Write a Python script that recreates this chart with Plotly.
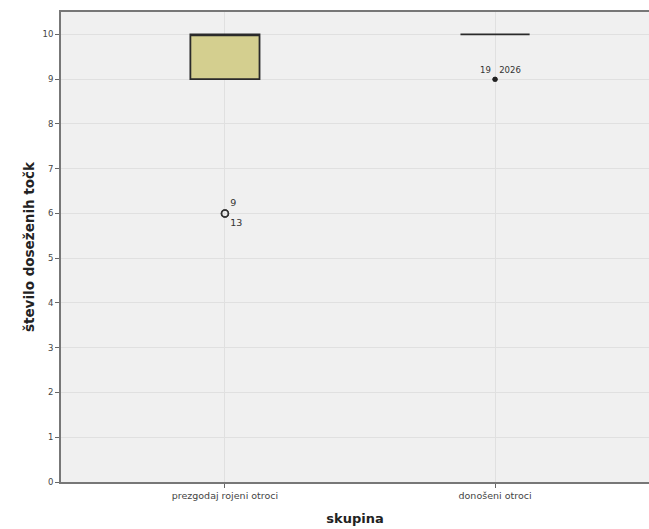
import plotly.graph_objects as go

categories = ["prezgodaj rojeni otroci", "donošeni otroci"]
q1 = [9, 10]
median = [10, 10]
q3 = [10, 10]
lower_fence = [9, 10]
upper_fence = [10, 10]

# outliers: (category index, value, case label)
out_cat = [0, 0]
out_val = [6, 6]
out_lab = ["9", "13"]
out_pos = ["top right", "bottom right"]

ext_cat = [1, 1]
ext_val = [9, 9]
ext_lab = ["19", "2026"]
ext_pos = ["top left", "top right"]

yticks = list(range(0, 11))

SMALL = "DejaVu Sans, Liberation Sans, Arial"
fig = go.Figure()
fig.add_trace(go.Box(
    x=[0, 1], q1=q1, median=median, q3=q3,
    lowerfence=lower_fence, upperfence=upper_fence,
    fillcolor="#d4cf8f", line=dict(color="#2a2a2a", width=1.8),
    width=0.256, boxpoints=False, showlegend=False, whiskerwidth=0.5,
))
for i in range(len(out_val)):
    fig.add_trace(go.Scatter(
        x=[out_cat[i]], y=[out_val[i]], mode="markers+text",
        text=[out_lab[i]], textposition=out_pos[i],
        textfont=dict(size=9.5, color="#333", family=SMALL),
        marker=dict(symbol="circle-open", size=7, color="#333", line=dict(width=1.5)),
        showlegend=False, cliponaxis=False,
    ))
for i in range(len(ext_val)):
    fig.add_trace(go.Scatter(
        x=[ext_cat[i]], y=[ext_val[i]], mode="markers+text",
        text=[ext_lab[i]], textposition=ext_pos[i],
        textfont=dict(size=8.5, color="#333", family=SMALL),
        marker=dict(symbol="circle", size=5, color="#222"),
        showlegend=False, cliponaxis=False,
    ))

fig.update_layout(
    width=649, height=529,
    margin=dict(l=61, r=0, t=12, b=47),
    paper_bgcolor="white", plot_bgcolor="#f0f0f0",
    font=dict(family=SMALL, color="#333"),
    xaxis=dict(
        range=[-0.607, 1.570], tickmode="array", tickvals=[0, 1], ticktext=categories,
        tickfont=dict(size=9.5, color="#444", family=SMALL), ticks="outside", ticklen=4, tickcolor="#666",
        showline=True, linecolor="#777", linewidth=2, mirror=True, automargin=False,
        showgrid=True, gridcolor="#e0e0e0", gridwidth=1, zeroline=False,
        title=dict(text="<b>skupina</b>", font=dict(size=13, color="#222", family="DejaVu Sans"), standoff=13),
    ),
    yaxis=dict(
        range=[0, 10.5], tickmode="array", tickvals=yticks,
        tickfont=dict(size=8.5, color="#444", family=SMALL), ticks="outside", ticklen=4, tickcolor="#666",
        showline=True, linecolor="#777", linewidth=2, automargin=False,
        showgrid=True, gridcolor="#e0e0e0", gridwidth=1, zeroline=False,
        title=dict(text="<b>število doseženih točk</b>", font=dict(size=13.5, color="#222", family="DejaVu Sans"), standoff=5),
    ),
)
fig.write_html(
    "out.html",
    config={"displayModeBar": False},
    post_script="document.body.style.margin='0';document.body.style.overflow='hidden';",
)
